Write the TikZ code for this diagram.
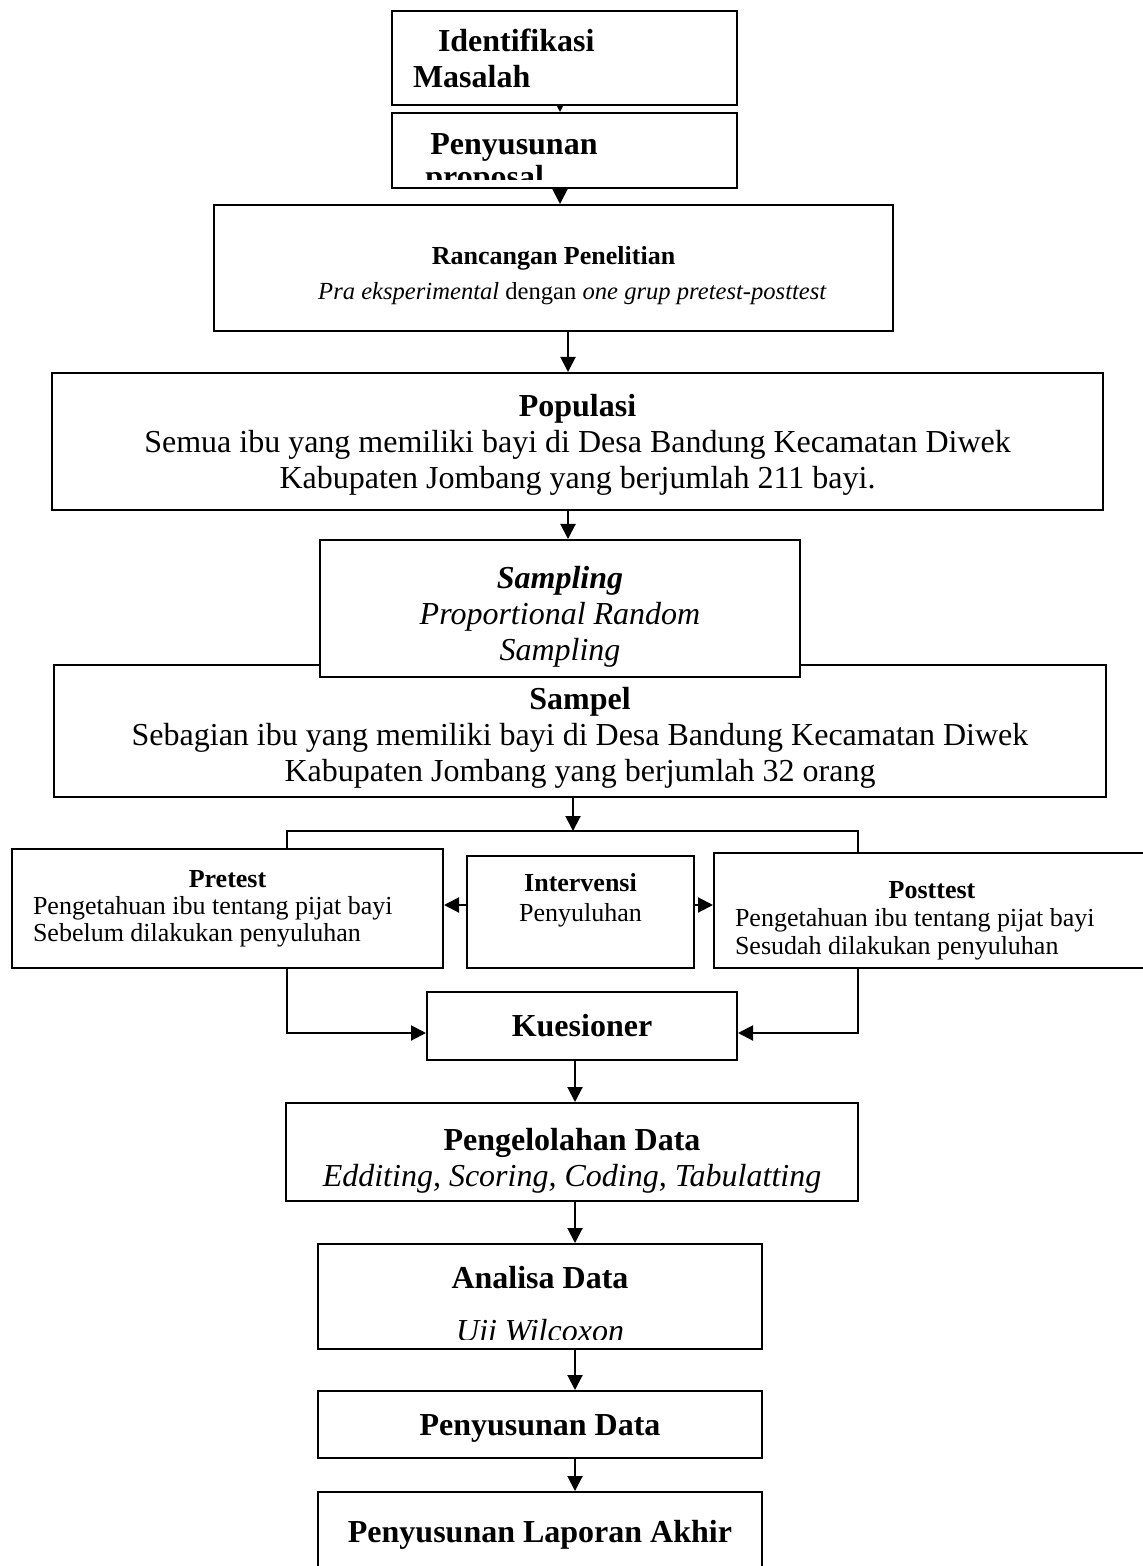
\documentclass[tikz,border=0pt]{standalone}
\usepackage{fontspec}
\setmainfont{Liberation Serif}
\usetikzlibrary{arrows.meta,backgrounds}

\begin{document}
\begin{tikzpicture}
[x=0.5pt,y=-0.5pt]
\tikzset{
	kotak/.style = {draw, fill=white, line width=1pt, inner sep=0pt, align=center},
	besar/.style = {font=\fontsize{16}{18}\selectfont},
	kecil/.style = {font=\fontsize{13}{#1}\selectfont},
	kecil/.default = 14.5,
	panah/.style = {line width=1pt, -{Triangle[length=7.5pt,width=7.5pt]}},
	garis/.style = {line width=1pt}
}

\useasboundingbox (0,0) rectangle (1143,1566);

\node[kotak,besar,minimum width=172.5pt,minimum height=47pt,text width=151.5pt,inner xsep=10.5pt,align=flush left] (identifikasi) at (564.5,58) {\hspace*{12.5pt}\textbf{Identifikasi}\\\textbf{Masalah}};

\node[kotak,minimum width=172.5pt,minimum height=37.5pt] (proposal) at (564.5,150.5) {};
\node[besar,anchor=base west,inner sep=0pt] (judulproposal) at (430,155) {\textbf{Penyusunan}};
\begin{scope}
	\clip ([yshift=4.5pt]proposal.south west) rectangle (proposal.north east);
	\node[besar,anchor=base west,inner sep=0pt] (sisaproposal) at (425,188) {\textbf{proposal}};
\end{scope}

\node[kotak,kecil=17.5,minimum width=339.5pt,minimum height=63pt] (rancangan) at (553.5,268) {\rule{0pt}{17pt}\textbf{Rancangan Penelitian}\\\hspace*{19pt}{\fontsize{12.3}{17.5}\selectfont\textit{Pra eksperimental} dengan \textit{one grup pretest-posttest}}};

\node[kotak,besar,minimum width=525.5pt,minimum height=68.5pt] (populasi) at (577.5,441.5) {\rule{0pt}{14.5pt}\textbf{Populasi}\\Semua ibu yang memiliki bayi di Desa Bandung Kecamatan Diwek\\Kabupaten Jombang yang berjumlah 211 bayi.};

\node[kotak,besar,minimum width=526pt,minimum height=66pt] (sampel) at (580,731) {\rule{0pt}{18pt}\textbf{Sampel}\\Sebagian ibu yang memiliki bayi di Desa Bandung Kecamatan Diwek\\Kabupaten Jombang yang berjumlah 32 orang};
\node[kotak,besar,minimum width=240pt,minimum height=68.5pt] (sampling) at (560,608.5) {\rule{0pt}{19pt}\textbf{\textit{Sampling}}\\\textit{Proportional Random}\\\textit{Sampling}};

\node[kotak,kecil=13.5,minimum width=215.5pt,minimum height=59.5pt,text width=194.5pt,inner xsep=10.5pt,align=flush left] (pretest) at (227.5,908.5) {\makebox[\linewidth]{\textbf{Pretest}}\\Pengetahuan ibu tentang pijat bayi\\Sebelum dilakukan penyuluhan};
\node[kotak,kecil=15,minimum width=113.5pt,minimum height=56pt] (intervensi) at (580.5,912) {\textbf{Intervensi}\\Penyuluhan\\~};
\node[kotak,kecil=14,minimum width=218pt,minimum height=57.5pt,text width=197pt,inner xsep=10.5pt,align=flush left] (posttest) at (932,910.5) {\rule{0pt}{19pt}\makebox[\linewidth]{\textbf{Posttest}}\\Pengetahuan ibu tentang pijat bayi\\Sesudah dilakukan penyuluhan};

\node[kotak,besar,minimum width=155pt,minimum height=34pt] (kuesioner) at (582,1026) {\textbf{Kuesioner}};
\node[kotak,besar,minimum width=286pt,minimum height=49pt] (pengelolahan) at (572,1152) {\rule{0pt}{20pt}\textbf{Pengelolahan Data}\\\textit{Edditing, Scoring, Coding, Tabulatting}};

\node[kotak,minimum width=222pt,minimum height=52.5pt] (analisa) at (540,1296.5) {};
\node[besar,anchor=base,inner sep=0pt] (judulanalisa) at (540,1288) {\textbf{Analisa Data}};
\begin{scope}
	\clip ([yshift=5.5pt]analisa.south west) rectangle (analisa.north east);
	\node[besar,anchor=base,inner sep=0pt] (uji) at (540,1341) {\textit{Uji Wilcoxon}};
\end{scope}

\node[kotak,besar,minimum width=222pt,minimum height=33.5pt] (penyusunandata) at (540,1424.5) {\rule{0pt}{14pt}\textbf{Penyusunan Data}};
\node[kotak,besar,minimum width=222pt,minimum height=39pt] (laporan) at (540,1531) {\rule{0pt}{15pt}\textbf{Penyusunan Laporan Akhir}};

\coordinate (k1) at (560,0);
\coordinate (k2) at (568,0);
\coordinate (sumbu) at (575,0);
\coordinate (cabang) at (573,831);
\coordinate (kiri) at (287,831);
\coordinate (kanan) at (858,831);
\coordinate (tengahkiri) at ([yshift=3.5pt]intervensi.west);
\coordinate (tengahkanan) at ([yshift=3.5pt]intervensi.east);
\coordinate (masukkiri) at ([yshift=-3.5pt]kuesioner.west);
\coordinate (masukkanan) at ([yshift=-3.5pt]kuesioner.east);

\begin{scope}[on background layer]
	\draw[panah] (identifikasi.south -| k1) -- (proposal.north -| k1);
	\draw[panah] (proposal.south -| k1) -- (rancangan.north -| k1);
	\draw[panah] (rancangan.south -| k2) -- (populasi.north -| k2);
	\draw[panah] (populasi.south -| k2) -- (sampling.north -| k2);
	\draw[panah] (sampel.south -| cabang) ++(0,-9) -- (cabang);
	\draw[garis] (kiri |- pretest.north) -- (kiri) -- (kanan) -- (kanan |- posttest.north);
	\draw[panah] (tengahkiri) -- (tengahkiri -| pretest.east);
	\draw[panah] (tengahkanan) -- (tengahkanan -| posttest.west);
	\draw[panah] (kiri |- pretest.south) |- (masukkiri);
	\draw[panah] (kanan |- posttest.south) |- (masukkanan);
	\draw[panah] (kuesioner.south -| sumbu) -- (pengelolahan.north -| sumbu);
	\draw[panah] (pengelolahan.south -| sumbu) -- (analisa.north -| sumbu);
	\draw[panah] (analisa.south -| sumbu) -- (penyusunandata.north -| sumbu);
	\draw[panah] (penyusunandata.south -| sumbu) -- (laporan.north -| sumbu);
\end{scope}

\end{tikzpicture}
\end{document}
